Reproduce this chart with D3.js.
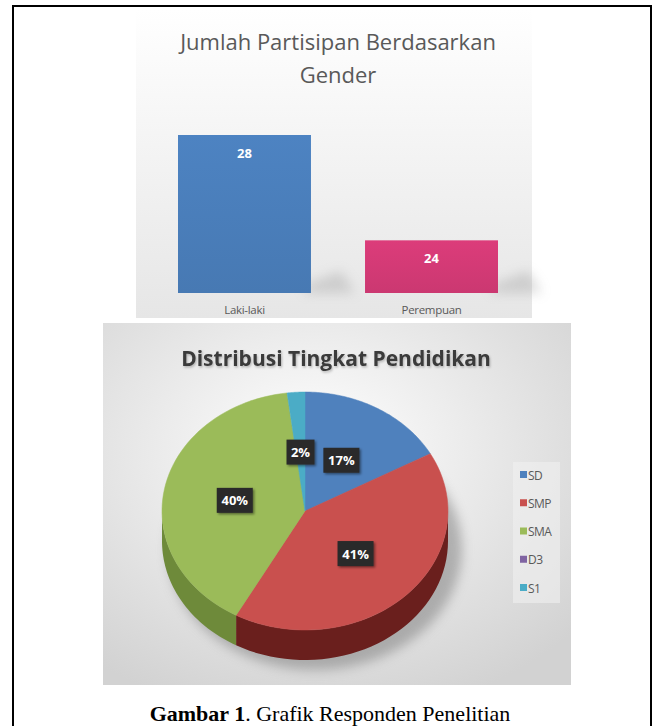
<!DOCTYPE html>
<html>
<head>
<meta charset="utf-8">
<script src="https://cdn.jsdelivr.net/npm/d3@7"></script>
<style>
  body { margin: 0; background: #fff; }
  svg { display: block; }
</style>
</head>
<body>
<div id="chart"></div>
<script>
// data: gender bar chart
var genderCats = ["Laki-laki", "Perempuan"];
var genderVals = [28, 24];
var genderColors = ["#4a7ebb", "#d43a76"];

// data: education pie
var eduCats = ["SD", "SMP", "SMA", "D3", "S1"];
var eduVals = [17, 41, 40, 0, 2];
var eduColors = ["#4f81bd", "#c9504e", "#9bbb59", "#8064a2", "#4bacc6"];
var eduSide = ["#2f5a8c", "#6a1f1d", "#6e8a3a", "#4f3b6b", "#2c7a8f"];

var W = 659, H = 726;

var svg = d3.select("#chart").append("svg")
    .attr("width", W)
    .attr("height", H);

var defs = svg.append("defs");

var g1 = defs.append("linearGradient").attr("id", "bg1")
    .attr("x1", 0).attr("y1", 0).attr("x2", 0).attr("y2", 1);
g1.append("stop").attr("offset", "0%").attr("stop-color", "#ffffff");
g1.append("stop").attr("offset", "100%").attr("stop-color", "#e6e6e6");

var g2 = defs.append("radialGradient").attr("id", "bg2")
    .attr("cx", "45%").attr("cy", "35%").attr("r", "75%");
g2.append("stop").attr("offset", "0%").attr("stop-color", "#ffffff");
g2.append("stop").attr("offset", "100%").attr("stop-color", "#d2d2d2");

genderColors.forEach(function(c, i) {
  var lg = defs.append("linearGradient").attr("id", "bar" + i)
      .attr("x1", 0).attr("y1", 0).attr("x2", 0).attr("y2", 1);
  lg.append("stop").attr("offset", "0%").attr("stop-color", d3.color(c).brighter(0.1));
  lg.append("stop").attr("offset", "100%").attr("stop-color", d3.color(c).darker(0.12));
});

var blur = defs.append("filter").attr("id", "blur")
    .attr("x", "-50%").attr("y", "-50%").attr("width", "200%").attr("height", "200%");
blur.append("feGaussianBlur").attr("stdDeviation", 6);

var shadow = defs.append("filter").attr("id", "shadow")
    .attr("x", "-30%").attr("y", "-30%").attr("width", "160%").attr("height", "160%");
shadow.append("feDropShadow").attr("dx", 1.5).attr("dy", 1.5)
    .attr("stdDeviation", 1.2).attr("flood-color", "#000").attr("flood-opacity", 0.45);

var tshadow = defs.append("filter").attr("id", "tshadow")
    .attr("x", "-10%").attr("y", "-30%").attr("width", "120%").attr("height", "160%");
tshadow.append("feDropShadow").attr("dx", 1).attr("dy", 1.5)
    .attr("stdDeviation", 1).attr("flood-color", "#000").attr("flood-opacity", 0.25);

// outer frame
svg.append("rect")
    .attr("x", 13).attr("y", 6)
    .attr("width", 638).attr("height", 740)
    .attr("fill", "none").attr("stroke", "#000").attr("stroke-width", 2);

// ---------- bar chart ----------
var barG = svg.append("g");
barG.append("rect")
    .attr("x", 136).attr("y", 9)
    .attr("width", 396).attr("height", 309)
    .attr("fill", "url(#bg1)");

barG.append("text")
    .attr("x", 338).attr("y", 50)
    .attr("text-anchor", "middle")
    .style("font-family", "Open Sans")
    .style("font-size", "22px")
    .style("fill", "#595959")
    .text("Jumlah Partisipan Berdasarkan");
barG.append("text")
    .attr("x", 338).attr("y", 83)
    .attr("text-anchor", "middle")
    .style("font-family", "Open Sans")
    .style("font-size", "22px")
    .style("fill", "#595959")
    .text("Gender");

var x = d3.scaleBand()
    .domain(genderCats)
    .range([140.6, 535.4])
    .paddingInner(0.289)
    .paddingOuter(0.2);

var y = d3.scaleLinear()
    .domain([22, 28])
    .range([293, 135]);

// soft floor shadows to the right of bars
barG.selectAll(".bshadow")
    .data(genderVals)
    .enter()
    .append("path")
    .attr("class", "bshadow")
    .attr("d", function(d, i) {
      var r = x(genderCats[i]) + x.bandwidth(), b = y.range()[0];
      return d3.line()([[r - 6, b], [r - 6, b - 8], [r + 30, b - 22], [r + 44, b]]) + "Z";
    })
    .attr("fill", "#9a9a9a")
    .attr("opacity", 0.35)
    .attr("filter", "url(#blur)");

barG.selectAll(".bar")
    .data(genderVals)
    .enter()
    .append("rect")
    .attr("class", "bar")
    .attr("x", function(d, i) { return x(genderCats[i]); })
    .attr("y", function(d) { return y(d); })
    .attr("width", x.bandwidth())
    .attr("height", function(d) { return y(22) - y(d); })
    .attr("fill", function(d, i) { return "url(#bar" + i + ")"; });

barG.selectAll(".blabel")
    .data(genderVals)
    .enter()
    .append("text")
    .attr("class", "blabel")
    .attr("x", function(d, i) { return x(genderCats[i]) + x.bandwidth() / 2; })
    .attr("y", function(d) { return y(d) + 23; })
    .attr("text-anchor", "middle")
    .style("font-family", "Open Sans")
    .style("font-weight", "bold")
    .style("font-size", "13px")
    .style("fill", "#ffffff")
    .text(function(d) { return d; });

var xAxis = barG.append("g")
    .attr("transform", "translate(0," + y(22) + ")")
    .call(d3.axisBottom(x).tickSize(0).tickPadding(13));
xAxis.select(".domain").remove();
xAxis.selectAll("text")
    .style("font-family", "Open Sans")
    .style("font-size", "11.5px")
    .style("letter-spacing", "-0.3px")
    .style("fill", "#595959");

// ---------- pie chart ----------
var pieG = svg.append("g");
pieG.append("rect")
    .attr("x", 103).attr("y", 323)
    .attr("width", 468).attr("height", 362)
    .attr("fill", "url(#bg2)");

pieG.append("text")
    .attr("x", 336).attr("y", 366)
    .attr("text-anchor", "middle")
    .attr("filter", "url(#tshadow)")
    .style("font-family", "Open Sans")
    .style("font-weight", "bold")
    .style("font-size", "21px")
    .style("fill", "#3a3a3a")
    .text("Distribusi Tingkat Pendidikan");

var cx = 305, cy = 511, rx = 143, ry = 119, depth = 30;

function pt(a, dy) {
  return [cx + rx * Math.sin(a), cy - ry * Math.cos(a) + (dy || 0)];
}

var pie = d3.pie().sort(null).value(function(d) { return d; });
var arcs = pie(eduVals);

// shadow under pie
pieG.append("ellipse")
    .attr("cx", cx + 10).attr("cy", cy + depth + 8)
    .attr("rx", rx + 4).attr("ry", ry + 2)
    .attr("fill", "#777")
    .attr("opacity", 0.5)
    .attr("filter", "url(#blur)");

// side walls (front half only)
var lo = Math.PI / 2, hi = Math.PI * 1.5;
arcs.forEach(function(a, i) {
  var s = Math.max(a.startAngle, lo), e = Math.min(a.endAngle, hi);
  if (e <= s) return;
  var n = 40, p = [];
  for (var k = 0; k <= n; k++) p.push(pt(s + (e - s) * k / n, 0));
  for (var k = n; k >= 0; k--) p.push(pt(s + (e - s) * k / n, depth));
  pieG.append("path")
      .attr("d", d3.line()(p) + "Z")
      .attr("fill", eduSide[i]);
});

// top faces
arcs.forEach(function(a, i) {
  if (a.endAngle - a.startAngle <= 0) return;
  var n = 60, p = [[cx, cy]];
  for (var k = 0; k <= n; k++) p.push(pt(a.startAngle + (a.endAngle - a.startAngle) * k / n, 0));
  pieG.append("path")
      .attr("d", d3.line()(p) + "Z")
      .attr("fill", eduColors[i])
      .attr("stroke", eduColors[i])
      .attr("stroke-width", 0.5);
});

// data labels
var lab = pieG.selectAll(".plabel")
    .data(arcs.filter(function(a) { return a.value > 0; }))
    .enter()
    .append("g")
    .attr("class", "plabel")
    .attr("transform", function(a) {
      var m = (a.startAngle + a.endAngle) / 2;
      var c = [cx + rx * 0.5 * Math.sin(m), cy - ry * 0.5 * Math.cos(m)];
      return "translate(" + c[0] + "," + c[1] + ")";
    });

lab.append("rect")
    .attr("x", function(a) { return a.value < 10 ? -14 : -18; })
    .attr("y", -12)
    .attr("width", function(a) { return a.value < 10 ? 28 : 36; })
    .attr("height", 25)
    .attr("fill", "#2a2a2a")
    .attr("filter", "url(#shadow)");

lab.append("text")
    .attr("y", 5.5)
    .attr("text-anchor", "middle")
    .style("font-family", "Open Sans")
    .style("font-weight", "bold")
    .style("font-size", "13px")
    .style("fill", "#ffffff")
    .text(function(a) { return a.value + "%"; });

// legend
var leg = pieG.append("g");
leg.append("rect")
    .attr("x", 513).attr("y", 462)
    .attr("width", 47).attr("height", 141)
    .attr("fill", "#f0f0f0")
    .attr("opacity", 0.6);

var ly = d3.scalePoint().domain(eduCats).range([475, 588]);

leg.selectAll(".lsw")
    .data(eduCats)
    .enter()
    .append("rect")
    .attr("x", 520)
    .attr("y", function(d) { return ly(d) - 4; })
    .attr("width", 7).attr("height", 7)
    .attr("fill", function(d, i) { return eduColors[i]; });

leg.selectAll(".ltx")
    .data(eduCats)
    .enter()
    .append("text")
    .attr("x", 528)
    .attr("y", function(d) { return ly(d) + 4.5; })
    .style("font-family", "Open Sans")
    .style("font-size", "12px")
    .style("letter-spacing", "-0.5px")
    .style("fill", "#595959")
    .text(function(d) { return d; });

// caption
var cap = svg.append("text")
    .attr("x", 330).attr("y", 721)
    .attr("text-anchor", "middle")
    .style("font-family", "Liberation Serif")
    .style("font-size", "22px")
    .style("fill", "#000");
cap.append("tspan").style("font-weight", "bold").text("Gambar 1");
cap.append("tspan").text(". Grafik Responden Penelitian");
</script>
</body>
</html>
